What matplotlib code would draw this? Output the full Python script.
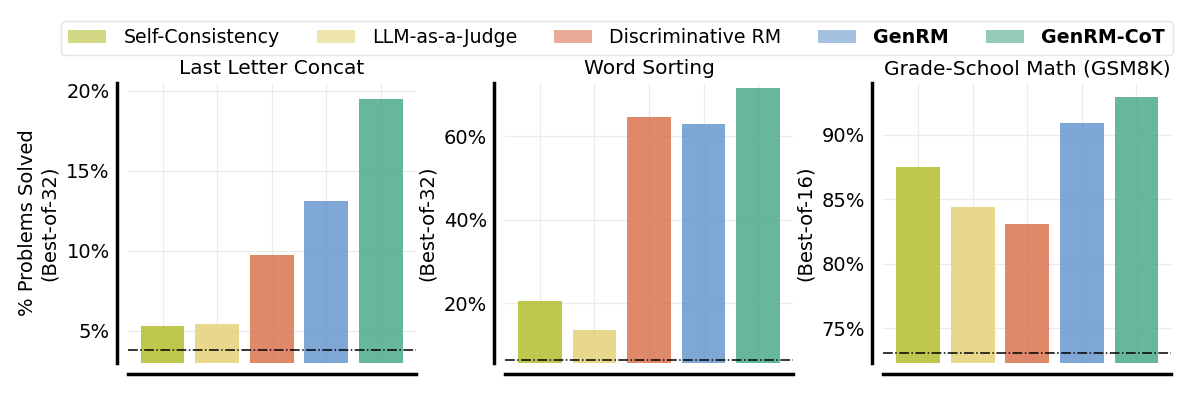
import matplotlib
matplotlib.use("Agg")
import matplotlib.pyplot as plt
from matplotlib.patches import Patch
from matplotlib.ticker import FuncFormatter

# methods shown in every panel
methods = ["Self-Consistency", "LLM-as-a-Judge", "Discriminative RM", "GenRM", "GenRM-CoT"]
colors = ["#b0bb22", "#e2cf6f", "#d86a45", "#5f91cc", "#41a581"]

# per-task results (% problems solved)
tasks = ["Last Letter Concat", "Word Sorting", "Grade-School Math (GSM8K)"]
last_letter = [5.3, 5.4, 9.7, 13.1, 19.45]
word_sorting = [20.6, 13.6, 64.5, 62.8, 71.5]
gsm8k = [87.5, 84.45, 83.1, 90.9, 92.95]
baselines = [3.78, 6.4, 73.1]

ylabels = ["% Problems Solved\n(Best-of-32)", "\n(Best-of-32)", "\n(Best-of-16)"]
yticks = [[5, 10, 15, 20], [20, 40, 60], [75, 80, 85, 90]]
ylims = [(2.96, 20.5), (5.6, 72.8), (72.3, 94.05)]

plt.rcParams["font.family"] = "DejaVu Sans"
plt.rcParams["font.size"] = 14

fig = plt.figure(figsize=(12, 3.95), dpi=100)
lefts = [127.7, 505, 883.3]

for i, vals in enumerate([last_letter, word_sorting, gsm8k]):
    ax = fig.add_axes([lefts[i] / 1200, 0.0803, 288 / 1200, 0.7104])
    x = range(len(methods))
    ax.bar(x, vals, width=0.8, color=colors, alpha=0.8, zorder=2, linewidth=0)
    ax.set_ylim(*ylims[i])
    ax.axhline(baselines[i], color="black", linestyle="-.", linewidth=1.1, zorder=3)
    ax.set_yticks(yticks[i])
    ax.yaxis.set_major_formatter(FuncFormatter(lambda v, p: f"{v:.0f}%"))
    ax.set_xticks(list(x))
    ax.set_xticklabels([])
    ax.tick_params(length=0, labelsize=14, pad=5)
    ax.grid(True, color="#ebebeb", linewidth=0.8, zorder=0)
    ax.set_axisbelow(True)
    for s in ["top", "right"]:
        ax.spines[s].set_visible(False)
    for s in ["left", "bottom"]:
        ax.spines[s].set_position(("outward", 8))
        ax.spines[s].set_linewidth(2.5)
    ax.set_title(tasks[i], fontsize=14.5, pad=6)
    ax.set_ylabel(ylabels[i], fontsize=14, labelpad=5)

handles = [Patch(facecolor=c, alpha=0.56, edgecolor="none") for c in colors]
leg = fig.legend(handles, methods, loc="upper center", ncol=5,
                 bbox_to_anchor=(616.7 / 1200, 1 - 20.7 / 395),
                 fontsize=13.7, frameon=True, fancybox=True,
                 handletextpad=0.9, columnspacing=1.94, borderaxespad=0)
leg.get_frame().set_edgecolor("#dddddd")
for t in leg.get_texts()[3:]:
    t.set_fontweight("bold")

fig.savefig("out.png", dpi=100)
